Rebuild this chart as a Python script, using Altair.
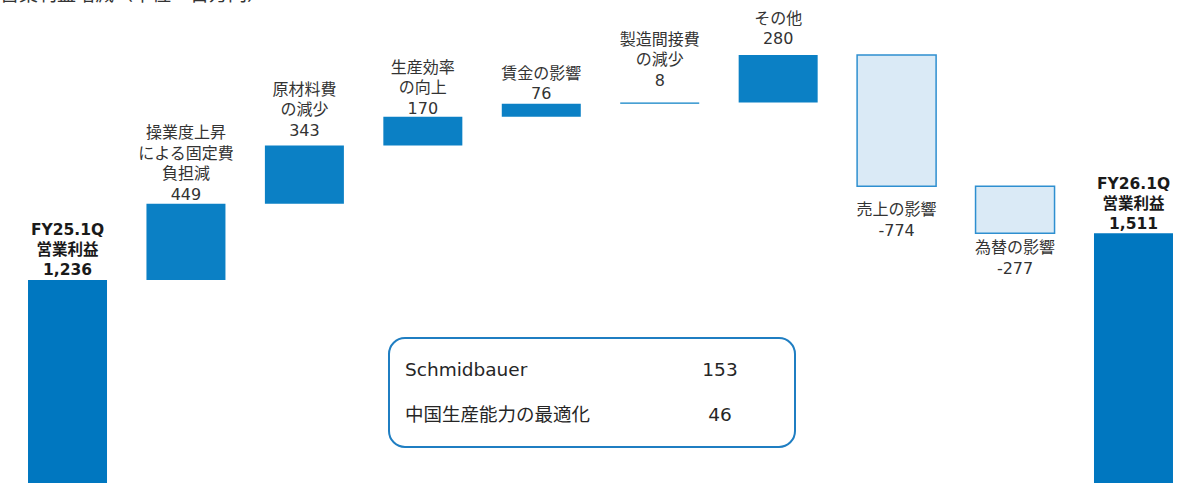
import altair as alt
import pandas as pd

# ---- data ----
names = ["FY25.1Q\n営業利益", "操業度上昇\nによる固定費\n負担減", "原材料費\nの減少", "生産効率\nの向上",
         "賃金の影響", "製造間接費\nの減少", "その他", "売上の影響", "為替の影響", "FY26.1Q\n営業利益"]
values = [1236, 449, 343, 170, 76, 8, 280, -774, -277, 1511]
kinds = ["total", "up", "up", "up", "up", "up", "up", "down", "down", "total"]
box_names = ["Schmidbauer", "中国生産能力の最適化"]
box_values = [153, 46]
title_text = "営業利益増減（単位：百万円）"

rows = []
run = 0
for i, (n, v, k) in enumerate(zip(names, values, kinds)):
    if k == "total":
        start, end = 0, v
    else:
        start, end = run, run + v
    run = end
    rows.append(dict(i=i, kind=k, start=start, end=end, top=max(start, end), bot=min(start, end),
                     label=f"{n}\n{v:,}"))
df = pd.DataFrame(rows)
box_df = pd.DataFrame({"name": box_names, "val": box_values, "row": [0, 1]})

FONT = "DejaVu Sans, Noto Sans CJK JP"
xs = alt.Scale(domain=[-0.570, 9.494], nice=False, zero=False)
ys = alt.Scale(domain=[40, 2886], nice=False, zero=False)

base = alt.Chart(df).transform_calculate(lo="datum.i - 0.3335", hi="datum.i + 0.3335")

def bars(kind, **style):
    return base.transform_filter(alt.datum.kind == kind).mark_rect(clip=True, **style).encode(
        x=alt.X("lo:Q", scale=xs, axis=None),
        x2="hi:Q",
        y=alt.Y("start:Q", scale=ys, axis=None),
        y2="end:Q",
    )

total_bars = bars("total", color="#0077C0")
up_bars = bars("up", color="#0B80C5")
down_bars = bars("down", fill="#DAEAF6", stroke="#2E8FD0", strokeWidth=1.5)

# label placement (style): gap from last text line centre to bar edge, in px
label_gap = {0: 12.5, 1: 11, 2: 17, 3: 10, 4: 11.5, 5: 24, 6: 17.5, 9: 12}
down_gap = {7: 16, 8: 7}

layers = [total_bars, up_bars, down_bars]
for i, k in enumerate(kinds):
    nlines = len(names[i].split("\n")) + 1
    sel = base.transform_filter(alt.datum.i == i)
    if k == "down":
        t = sel.mark_text(baseline="top", dy=down_gap[i], fontSize=16, lineBreak="\n", lineHeight=20.5,
                          font=FONT, color="#333333").encode(
            x=alt.X("i:Q", scale=xs), y=alt.Y("bot:Q", scale=ys), text="label:N")
    elif k == "total":
        dy = -(label_gap[i] - 10.5) - (nlines - 1) * 20
        t = sel.mark_text(baseline="bottom", dy=dy, fontSize=15.5, fontWeight="bold", lineBreak="\n",
                          lineHeight=20, font=FONT, color="#1a1a1a").encode(
            x=alt.X("i:Q", scale=xs), y=alt.Y("top:Q", scale=ys), text="label:N")
    else:
        dy = -(label_gap[i] - 10) - (nlines - 1) * 20.5
        t = sel.mark_text(baseline="bottom", dy=dy, fontSize=16, lineBreak="\n", lineHeight=20.5,
                          font=FONT, color="#333333").encode(
            x=alt.X("i:Q", scale=xs), y=alt.Y("top:Q", scale=ys), text="label:N")
    layers.append(t)

# annotation box
box = alt.Chart(box_df).transform_filter(alt.datum.row == 0).mark_rect(
    cornerRadius=16, fill="white", stroke="#1F7EC2", strokeWidth=2
).encode(x=alt.value(389), x2=alt.value(795), y=alt.value(338), y2=alt.value(447))
layers.append(box)

def box_row(r, yv):
    b = alt.Chart(box_df).transform_filter(alt.datum.row == r)
    n = b.mark_text(align="left", baseline="middle", fontSize=18.5, font=FONT, color="#262626").encode(
        x=alt.value(405), y=alt.value(yv), text="name:N")
    v = b.mark_text(align="center", baseline="middle", fontSize=18.5, font=FONT, color="#262626").encode(
        x=alt.value(720), y=alt.value(yv), text="val:Q")
    return [n, v]

layers += box_row(0, 370) + box_row(1, 415)

title = alt.Chart(pd.DataFrame({"t": [title_text]})).mark_text(
    align="left", baseline="alphabetic", fontSize=19, font=FONT, color="#333333"
).encode(x=alt.value(0), y=alt.value(1), text="t:N")
layers.append(title)

chart = alt.layer(*layers).properties(
    width=1192, height=483, autosize=alt.AutoSizeParams(type="none"), padding=0, background="white"
).configure_view(stroke=None)

chart.save("out.html", embed_options={"renderer": "svg", "actions": False})
